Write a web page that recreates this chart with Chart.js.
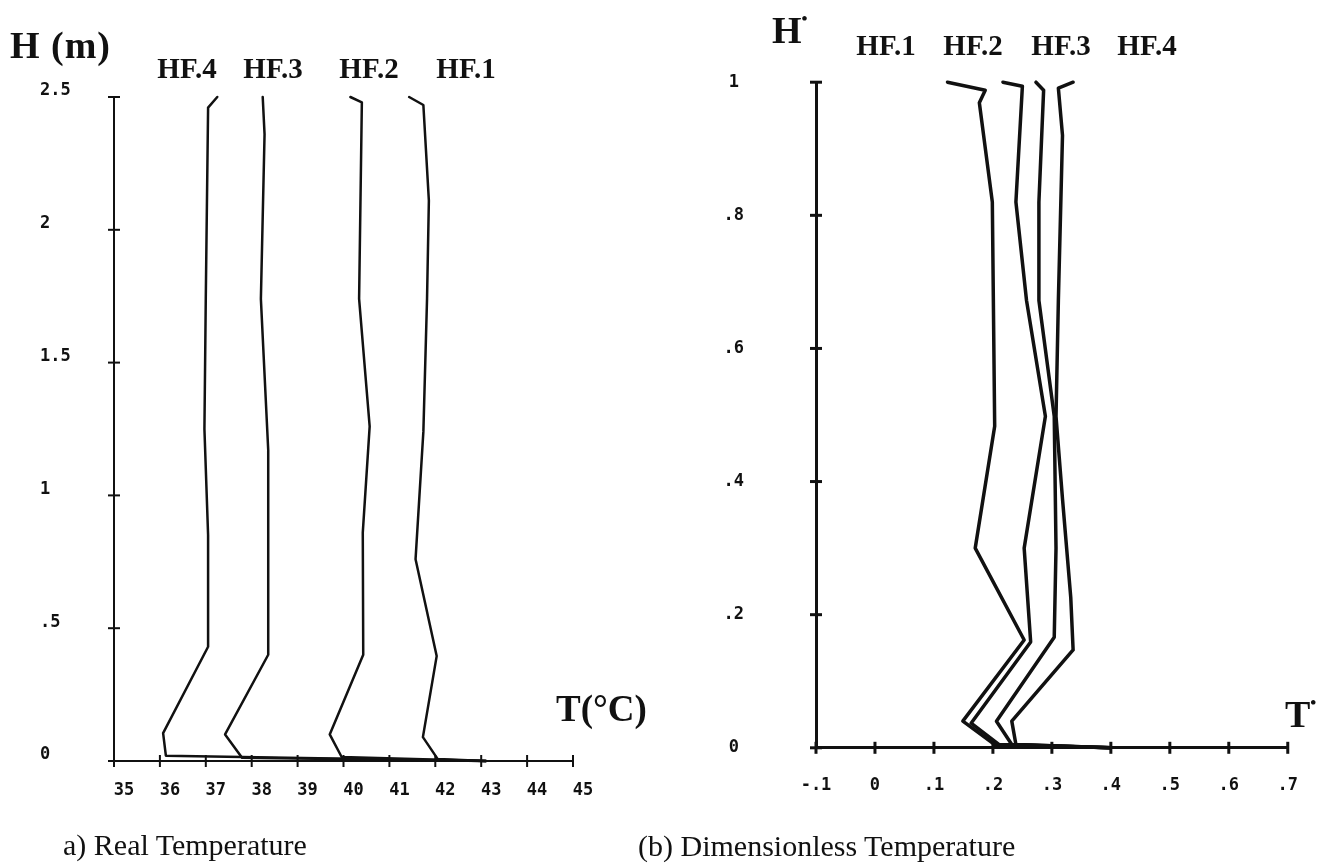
<!DOCTYPE html>
<html>
<head>
<meta charset="utf-8">
<script src="https://cdn.jsdelivr.net/npm/chart.js@4"></script>
<style>
  body { margin: 0; background: #fff; width: 1326px; height: 867px; position: relative; overflow: hidden; }
  .box { position: absolute; }
  .lbl { position: absolute; white-space: nowrap; line-height: 1; color: #111;
         font-family: 'Liberation Serif', 'Times New Roman', serif; }
  .b { font-weight: bold; }
  .c { transform: translateX(-50%); }
  .dot { font-size: 0.45em; vertical-align: 1.1em; }
</style>
</head>
<body>
<div class="box" id="leftBox" style="left:0;top:0;width:620px;height:830px"><canvas id="real"></canvas></div>
<div class="box" id="rightBox" style="left:660px;top:0;width:666px;height:830px"><canvas id="dimless"></canvas></div>

<div class="lbl b" style="left:10px;top:26px;font-size:38px;letter-spacing:1px">H&nbsp;(m)</div>
<div class="lbl b c" style="left:187px;top:54px;font-size:29px">HF.4</div>
<div class="lbl b c" style="left:273px;top:54px;font-size:29px">HF.3</div>
<div class="lbl b c" style="left:369px;top:54px;font-size:29px">HF.2</div>
<div class="lbl b c" style="left:466px;top:54px;font-size:29px">HF.1</div>
<div class="lbl b" style="left:556px;top:690px;font-size:37px">T(°C)</div>
<div class="lbl" style="left:63px;top:830px;font-size:30px">a) Real Temperature</div>

<div class="lbl b" style="left:772px;top:10px;font-size:38px">H<span class="dot">•</span></div>
<div class="lbl b c" style="left:886px;top:31px;font-size:29px">HF.1</div>
<div class="lbl b c" style="left:973px;top:31px;font-size:29px">HF.2</div>
<div class="lbl b c" style="left:1061px;top:31px;font-size:29px">HF.3</div>
<div class="lbl b c" style="left:1147px;top:31px;font-size:29px">HF.4</div>
<div class="lbl b" style="left:1285px;top:694px;font-size:38px">T<span class="dot">•</span></div>
<div class="lbl" style="left:638px;top:831px;font-size:30px">(b) Dimensionless Temperature</div>

<script>
// a) real temperature, T in °C against height H in m
const hf1RealT = [41.43, 41.74, 41.86, 41.82, 41.74, 41.57, 42.03, 41.73, 42.05, 43.1];
const hf1RealH = [2.5, 2.47, 2.11, 1.74, 1.24, 0.76, 0.395, 0.09, 0.008, 0];
const hf2RealT = [40.15, 40.4, 40.34, 40.57, 40.42, 40.43, 39.7, 39.96, 43.1];
const hf2RealH = [2.5, 2.48, 1.74, 1.26, 0.86, 0.4, 0.1, 0.015, 0];
const hf3RealT = [38.24, 38.28, 38.2, 38.36, 38.36, 37.42, 37.79, 43.1];
const hf3RealH = [2.5, 2.36, 1.74, 1.17, 0.4, 0.1, 0.012, 0];
const hf4RealT = [37.25, 37.05, 37.0, 36.97, 37.05, 37.05, 36.07, 36.13, 43.1];
const hf4RealH = [2.5, 2.46, 1.75, 1.25, 0.85, 0.43, 0.105, 0.02, 0];

// b) dimensionless temperature T* against H*
const hf1DimT = [0.123, 0.187, 0.177, 0.199, 0.203, 0.170, 0.253, 0.149, 0.203, 0.40];
const hf1DimH = [1.0, 0.988, 0.969, 0.82, 0.483, 0.30, 0.162, 0.040, 0.005, 0];
const hf2DimT = [0.217, 0.250, 0.239, 0.257, 0.289, 0.253, 0.264, 0.163, 0.210, 0.40];
const hf2DimH = [1.0, 0.994, 0.82, 0.672, 0.498, 0.30, 0.159, 0.037, 0.005, 0];
const hf3DimT = [0.273, 0.286, 0.278, 0.278, 0.304, 0.307, 0.304, 0.206, 0.232, 0.40];
const hf3DimH = [1.0, 0.988, 0.82, 0.672, 0.498, 0.30, 0.166, 0.040, 0.005, 0];
const hf4DimT = [0.336, 0.311, 0.318, 0.311, 0.307, 0.318, 0.332, 0.336, 0.232, 0.239, 0.40];
const hf4DimH = [1.0, 0.991, 0.92, 0.672, 0.498, 0.374, 0.226, 0.147, 0.040, 0.005, 0];

// tick values and their printed labels
const realXTicks = [35, 36, 37, 38, 39, 40, 41, 42, 43, 44, 45];
const realXLabels = ['35', '36', '37', '38', '39', '40', '41', '42', '43', '44', '45'];
const realYTicks = [0, 0.5, 1, 1.5, 2, 2.5];
const realYLabels = ['0', '.5', '1', '1.5', '2', '2.5'];
const dimXTicks = [-0.1, 0, 0.1, 0.2, 0.3, 0.4, 0.5, 0.6, 0.7];
const dimXLabels = ['-.1', '0', '.1', '.2', '.3', '.4', '.5', '.6', '.7'];
const dimYTicks = [0, 0.2, 0.4, 0.6, 0.8, 1];
const dimYLabels = ['0', '.2', '.4', '.6', '.8', '1'];

const INK = '#111';
const tickFont = { family: 'DejaVu Sans Mono', size: 17, weight: 'bold' };

function toPoints(xs, ys) {
  return xs.map((x, i) => ({ x: x, y: ys[i] }));
}

function lineSet(label, xs, ys, width) {
  return {
    label: label,
    data: toPoints(xs, ys),
    showLine: true,
    borderColor: INK,
    borderWidth: width,
    pointRadius: 0,
    tension: 0,
    clip: false,
    borderJoinStyle: 'round',
    borderCapStyle: 'round',
  };
}

// short tick marks crossing the axis lines
const crossTicks = {
  id: 'crossTicks',
  afterDraw(chart, args, opts) {
    const { ctx, chartArea } = chart;
    const xs = chart.scales.x;
    const ys = chart.scales.y;
    ctx.save();
    ctx.strokeStyle = INK;
    ctx.lineWidth = opts.width;
    xs.ticks.forEach((t, i) => {
      const px = xs.getPixelForTick(i);
      ctx.beginPath();
      ctx.moveTo(px, chartArea.bottom - opts.len);
      ctx.lineTo(px, chartArea.bottom + opts.len);
      ctx.stroke();
    });
    ys.ticks.forEach((t, i) => {
      const py = ys.getPixelForTick(i);
      ctx.beginPath();
      ctx.moveTo(chartArea.left - opts.len, py);
      ctx.lineTo(chartArea.left + opts.len, py);
      ctx.stroke();
    });
    ctx.restore();
  },
};

function makeChart(id, cfg) {
  return new Chart(document.getElementById(id).getContext('2d'), {
    type: 'scatter',
    data: { datasets: cfg.datasets },
    options: {
      responsive: true,
      maintainAspectRatio: false,
      animation: false,
      layout: { padding: cfg.padding },
      plugins: {
        legend: { display: false },
        tooltip: { enabled: false },
        crossTicks: { width: cfg.axisWidth, len: 6 },
      },
      scales: {
        x: {
          type: 'linear',
          min: cfg.xTicks[0],
          max: cfg.xTicks[cfg.xTicks.length - 1],
          afterBuildTicks: (s) => { s.ticks = cfg.xTicks.map((v) => ({ value: v })); },
          afterFit: (s) => { s.height = 50; },
          grid: { display: false, drawTicks: false },
          border: { display: true, color: INK, width: cfg.axisWidth },
          ticks: {
            color: INK,
            font: tickFont,
            padding: cfg.xPad,
            labelOffset: cfg.xLabelOffset,
            maxRotation: 0,
            autoSkip: false,
            callback: (v, i) => cfg.xLabels[i],
          },
        },
        y: {
          type: 'linear',
          min: cfg.yTicks[0],
          max: cfg.yTicks[cfg.yTicks.length - 1],
          afterBuildTicks: (s) => { s.ticks = cfg.yTicks.map((v) => ({ value: v })); },
          afterFit: (s) => { s.width = cfg.yWidth; },
          grid: { display: false, drawTicks: false },
          border: { display: true, color: INK, width: cfg.axisWidth },
          ticks: {
            color: INK,
            font: tickFont,
            padding: cfg.yPad,
            crossAlign: cfg.yAlign,
            labelOffset: cfg.yLabelOffset,
            autoSkip: false,
            callback: (v, i) => cfg.yLabels[i],
          },
        },
      },
    },
    plugins: [crossTicks],
  });
}

const realChart = makeChart('real', {
  datasets: [
    lineSet('HF.1', hf1RealT, hf1RealH, 2.5),
    lineSet('HF.2', hf2RealT, hf2RealH, 2.5),
    lineSet('HF.3', hf3RealT, hf3RealH, 2.5),
    lineSet('HF.4', hf4RealT, hf4RealH, 2.5),
  ],
  padding: { left: 40, right: 47, top: 97, bottom: 19 },
  axisWidth: 2,
  xTicks: realXTicks, xLabels: realXLabels, xPad: 19, xLabelOffset: 10,
  yTicks: realYTicks, yLabels: realYLabels, yPad: 8, yAlign: 'far', yLabelOffset: -6,
  yWidth: 74,
});

const dimChart = makeChart('dimless', {
  datasets: [
    lineSet('HF.1', hf1DimT, hf1DimH, 3.5),
    lineSet('HF.2', hf2DimT, hf2DimH, 3.5),
    lineSet('HF.3', hf3DimT, hf3DimH, 3.5),
    lineSet('HF.4', hf4DimT, hf4DimH, 3.5),
  ],
  padding: { left: 40, right: 33, top: 79, bottom: 28 },
  axisWidth: 3,
  xTicks: dimXTicks, xLabels: dimXLabels, xPad: 28, xLabelOffset: 0,
  yTicks: dimYTicks, yLabels: dimYLabels, yPad: 72, yAlign: 'center', yLabelOffset: 0,
  yWidth: 116,
});
</script>
</body>
</html>
